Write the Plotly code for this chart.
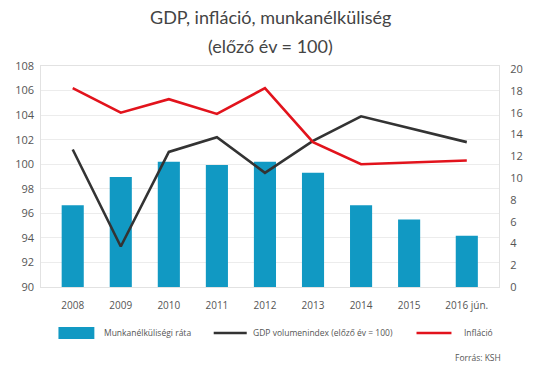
import plotly.graph_objects as go

# ---- data ----
categories = ["2008", "2009", "2010", "2011", "2012", "2013", "2014", "2015", "2016 jún."]
unemployment = [7.5, 10.1, 11.5, 11.2, 11.5, 10.5, 7.5, 6.2, 4.7]          # right axis (%)
gdp_index = [101.2, 93.3, 101.0, 102.2, 99.3, 101.9, 103.9, None, 101.8]    # left axis
inflation = [106.2, 104.2, 105.3, 104.1, 106.2, 101.8, 100.0, None, 100.3]  # left axis
left_ticks = [90, 92, 94, 96, 98, 100, 102, 104, 106, 108]
right_ticks = [0, 2, 4, 6, 8, 10, 12, 14, 16, 18, 20]
series_names = ["Munkanélküliségi ráta", "GDP volumenindex (előző év = 100)", "Infláció"]
title_lines = ["GDP, infláció, munkanélküliség", "(előző év = 100)"]
source_text = "Forrás: KSH"

# category positions (last one is set slightly further apart, as in the reference)
x_pos = [0, 1, 2, 3, 4, 5, 6, 7, 8.2]

BLUE = "#1199c3"
BLACK = "#333333"
RED = "#e2131c"
TXT = "#555555"
TICKFONT = dict(family="Open Sans", size=11, color=TXT)

fig = go.Figure()
fig.add_trace(go.Bar(x=x_pos, y=unemployment, name=series_names[0],
                     marker=dict(color=BLUE, line=dict(width=0)), width=0.46,
                     xaxis="x", yaxis="y"))
fig.add_trace(go.Scatter(x=x_pos, y=gdp_index, name=series_names[1], mode="lines",
                         connectgaps=True, line=dict(color=BLACK, width=2.6),
                         xaxis="x", yaxis="y2"))
fig.add_trace(go.Scatter(x=x_pos, y=inflation, name=series_names[2], mode="lines",
                         connectgaps=True, line=dict(color=RED, width=2.6),
                         xaxis="x", yaxis="y2"))

fig.update_layout(
    width=535, height=371,
    margin=dict(l=41, r=22, t=66, b=84),
    paper_bgcolor="white", plot_bgcolor="white",
    showlegend=False,
    xaxis=dict(range=[-0.66, 8.87], tickvals=x_pos, ticktext=categories,
               tickfont=dict(family="Open Sans", size=10, color=TXT),
               showgrid=False, zeroline=False, ticks="", ticklabelstandoff=9,
               showline=True, linecolor="#e2e2e2", linewidth=1, mirror=True),
    yaxis=dict(side="right", range=[0, 20.3], tickvals=right_ticks,
               tickfont=TICKFONT, showgrid=False, zeroline=False, ticks="",
               ticklabelstandoff=8,
               showline=True, linecolor="#e2e2e2", linewidth=1, mirror=True),
    yaxis2=dict(side="left", overlaying="y", range=[90, 108], tickvals=left_ticks,
                tickfont=TICKFONT, showgrid=True, gridcolor="#ececec", gridwidth=1,
                zeroline=False, ticks="", ticklabelstandoff=6, showline=False),
)

# title (two lines)
fig.add_annotation(text=title_lines[0], xref="paper", yref="paper", x=0.502, y=1.222,
                   xanchor="center", yanchor="middle", showarrow=False,
                   font=dict(family="Lato", size=18, color="#444444"))
fig.add_annotation(text=title_lines[1], xref="paper", yref="paper", x=0.502, y=1.091,
                   xanchor="center", yanchor="middle", showarrow=False,
                   font=dict(family="Lato", size=18, color="#444444"))

# custom legend
LEG_Y = -0.208
LEGFONT = dict(family="Open Sans", size=8.5, color=TXT)
fig.add_shape(type="rect", xref="paper", yref="paper", x0=0.0381, x1=0.1165,
              y0=-0.181, y1=-0.2353, fillcolor=BLUE, line=dict(width=0))
fig.add_annotation(text=series_names[0], xref="paper", yref="paper", x=0.1335, y=LEG_Y,
                   xanchor="left", yanchor="middle", showarrow=False, font=LEGFONT)
fig.add_shape(type="line", xref="paper", yref="paper", x0=0.3771, x1=0.4492,
              y0=LEG_Y, y1=LEG_Y, line=dict(color=BLACK, width=2.6))
fig.add_annotation(text=series_names[1], xref="paper", yref="paper", x=0.4576, y=LEG_Y,
                   xanchor="left", yanchor="middle", showarrow=False, font=LEGFONT)
fig.add_shape(type="line", xref="paper", yref="paper", x0=0.8199, x1=0.8962,
              y0=LEG_Y, y1=LEG_Y, line=dict(color=RED, width=2.6))
fig.add_annotation(text=series_names[2], xref="paper", yref="paper", x=0.9195, y=LEG_Y,
                   xanchor="left", yanchor="middle", showarrow=False, font=LEGFONT)

# source
fig.add_annotation(text=source_text, xref="paper", yref="paper", x=1.0085, y=-0.321,
                   xanchor="right", yanchor="middle", showarrow=False, font=LEGFONT)

fig.write_html("out.html")
